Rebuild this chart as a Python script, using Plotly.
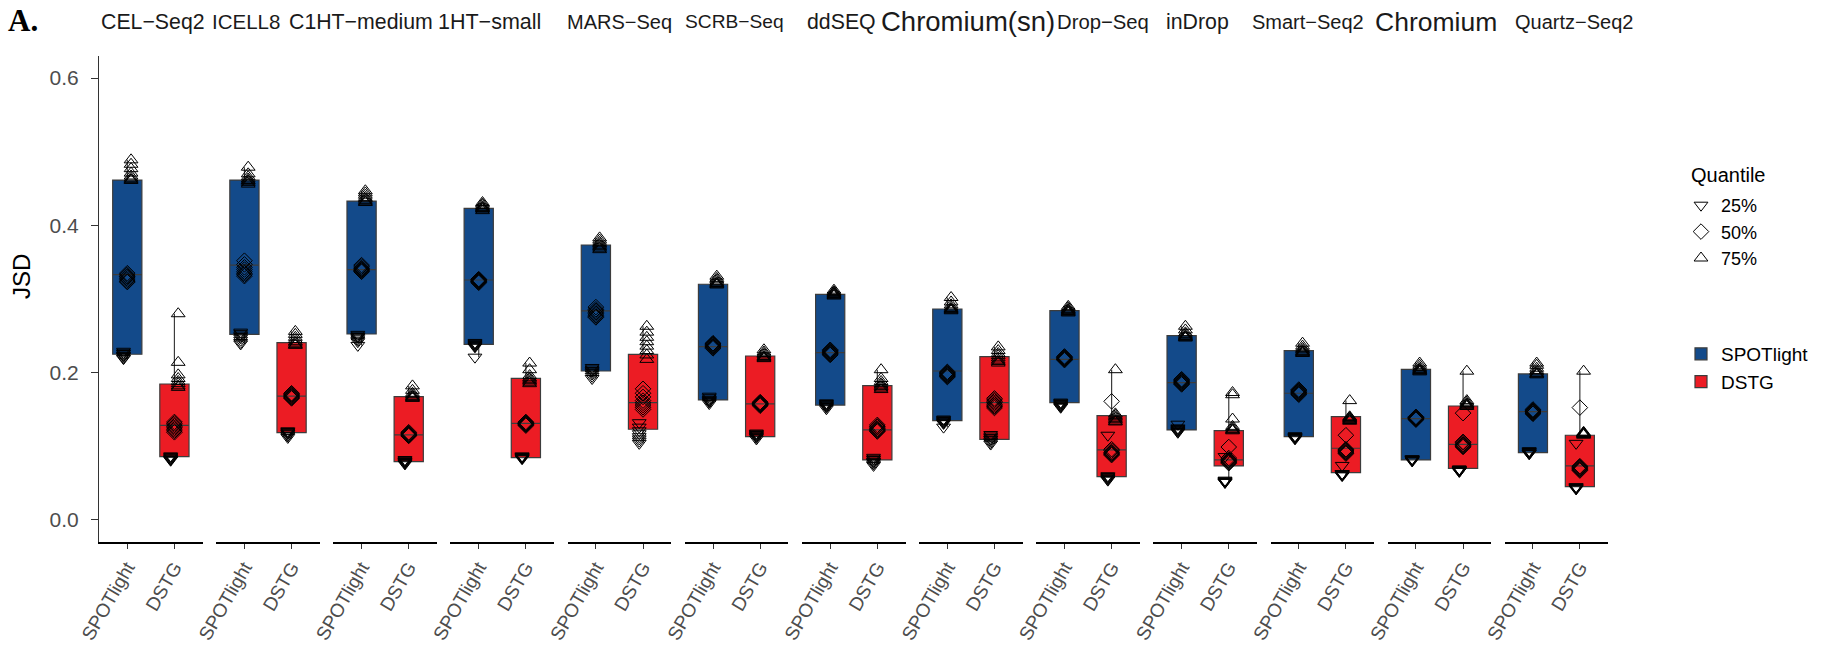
import plotly.graph_objects as go

platforms = ["CEL−Seq2", "ICELL8", "C1HT−medium", "1HT−small", "MARS−Seq", "SCRB−Seq", "ddSEQ",
             "Chromium(sn)", "Drop−Seq", "inDrop", "Smart−Seq2", "Chromium", "Quartz−Seq2"]
methods = ["SPOTlight", "DSTG"]
quantiles = ["25%", "50%", "75%"]
y_ticks = [0.0, 0.2, 0.4, 0.6]
y_ticktext = ["0.0", "0.2", "0.4", "0.6"]

# Box statistics (q1, median, q3) per platform
spot_q1 = [0.225, 0.252, 0.2525, 0.2385, 0.2022, 0.163, 0.156, 0.1348, 0.1593, 0.1222, 0.1131, 0.0814, 0.0914]
spot_med = [0.333, 0.346, 0.340, 0.3258, 0.284, 0.2353, 0.2271, 0.2022, 0.218, 0.1864, 0.172, 0.1376, 0.147]
spot_q3 = [0.4615, 0.4615, 0.433, 0.423, 0.3733, 0.320, 0.3063, 0.2864, 0.2841, 0.2502, 0.2299, 0.2045, 0.1982]
dstg_q1 = [0.086, 0.1186, 0.0792, 0.0846, 0.1231, 0.1131, 0.0814, 0.1095, 0.0588, 0.0733, 0.0642, 0.0701, 0.0452]
dstg_med = [0.1285, 0.168, 0.1154, 0.131, 0.1593, 0.1575, 0.1222, 0.1593, 0.095, 0.0814, 0.0973, 0.1027, 0.0733]
dstg_q3 = [0.1846, 0.2407, 0.1674, 0.1923, 0.2249, 0.2226, 0.1824, 0.2217, 0.1416, 0.1213, 0.1403, 0.1547, 0.115]

# Quantile points (one list per platform)
spot_p25 = [
    [0.229, 0.227, 0.226, 0.224, 0.223, 0.222, 0.220, 0.219],
    [0.255, 0.253, 0.251, 0.249, 0.247, 0.244, 0.241, 0.239],
    [0.252, 0.250, 0.249, 0.248, 0.246, 0.244, 0.242, 0.237],
    [0.241, 0.240, 0.239, 0.238, 0.237, 0.236, 0.235, 0.221],
    [0.207, 0.205, 0.203, 0.202, 0.200, 0.198, 0.195, 0.192],
    [0.168, 0.166, 0.164, 0.163, 0.162, 0.161, 0.160, 0.158],
    [0.159, 0.158, 0.157, 0.156, 0.155, 0.154, 0.153, 0.151],
    [0.137, 0.136, 0.135, 0.134, 0.133, 0.132, 0.131, 0.126],
    [0.160, 0.159, 0.158, 0.157, 0.156, 0.155, 0.154, 0.153],
    [0.130, 0.125, 0.124, 0.123, 0.122, 0.121, 0.120, 0.119],
    [0.114, 0.114, 0.113, 0.113, 0.112, 0.112, 0.111, 0.110],
    [0.083, 0.083, 0.082, 0.082, 0.082, 0.081, 0.081, 0.080],
    [0.094, 0.093, 0.093, 0.092, 0.091, 0.091, 0.090, 0.090],
]
spot_p50 = [
    [0.335, 0.333, 0.331, 0.330, 0.328, 0.326, 0.324, 0.323],
    [0.352, 0.347, 0.343, 0.340, 0.337, 0.335, 0.333, 0.331],
    [0.346, 0.344, 0.342, 0.341, 0.340, 0.339, 0.338, 0.337],
    [0.327, 0.326, 0.326, 0.325, 0.324, 0.324, 0.323, 0.322],
    [0.289, 0.286, 0.284, 0.282, 0.280, 0.278, 0.276, 0.275],
    [0.240, 0.239, 0.238, 0.237, 0.236, 0.235, 0.234, 0.233],
    [0.231, 0.230, 0.229, 0.228, 0.227, 0.226, 0.225, 0.224],
    [0.201, 0.200, 0.199, 0.198, 0.197, 0.196, 0.195, 0.194],
    [0.222, 0.221, 0.220, 0.220, 0.219, 0.218, 0.218, 0.217],
    [0.191, 0.190, 0.189, 0.188, 0.187, 0.186, 0.185, 0.184],
    [0.177, 0.176, 0.175, 0.174, 0.173, 0.172, 0.171, 0.170],
    [0.140, 0.139, 0.139, 0.138, 0.138, 0.137, 0.137, 0.136],
    [0.150, 0.149, 0.148, 0.147, 0.147, 0.146, 0.145, 0.144],
]
spot_p75 = [
    [0.489, 0.483, 0.477, 0.471, 0.467, 0.464, 0.462, 0.461],
    [0.479, 0.470, 0.466, 0.463, 0.461, 0.460, 0.458, 0.456],
    [0.447, 0.444, 0.441, 0.438, 0.436, 0.434, 0.432, 0.431],
    [0.431, 0.429, 0.427, 0.425, 0.424, 0.423, 0.422, 0.420],
    [0.383, 0.380, 0.377, 0.375, 0.373, 0.371, 0.369, 0.367],
    [0.331, 0.328, 0.326, 0.324, 0.322, 0.321, 0.320, 0.319],
    [0.312, 0.310, 0.309, 0.308, 0.307, 0.306, 0.305, 0.304],
    [0.302, 0.296, 0.292, 0.289, 0.287, 0.286, 0.285, 0.284],
    [0.290, 0.288, 0.286, 0.285, 0.284, 0.283, 0.282, 0.281],
    [0.263, 0.258, 0.254, 0.252, 0.250, 0.249, 0.248, 0.247],
    [0.240, 0.236, 0.233, 0.231, 0.229, 0.228, 0.227, 0.226],
    [0.213, 0.210, 0.207, 0.205, 0.204, 0.203, 0.202, 0.201],
    [0.213, 0.210, 0.206, 0.203, 0.201, 0.199, 0.198, 0.197],
]
dstg_p25 = [
    [0.087, 0.086, 0.085, 0.084, 0.083, 0.082, 0.082, 0.081],
    [0.121, 0.120, 0.119, 0.118, 0.117, 0.115, 0.114, 0.112],
    [0.082, 0.081, 0.080, 0.079, 0.079, 0.078, 0.077, 0.076],
    [0.087, 0.086, 0.086, 0.085, 0.085, 0.084, 0.084, 0.083],
    [0.132, 0.126, 0.121, 0.117, 0.113, 0.110, 0.107, 0.104],
    [0.118, 0.117, 0.116, 0.115, 0.114, 0.113, 0.112, 0.110],
    [0.085, 0.083, 0.082, 0.080, 0.079, 0.078, 0.076, 0.074],
    [0.116, 0.114, 0.112, 0.110, 0.109, 0.107, 0.105, 0.103],
    [0.115, 0.060, 0.059, 0.058, 0.057, 0.056, 0.055, 0.054],
    [0.086, 0.054, 0.053, 0.053, 0.052, 0.052, 0.051, 0.051],
    [0.074, 0.063, 0.063, 0.062, 0.062, 0.061, 0.061, 0.060],
    [0.069, 0.069, 0.068, 0.068, 0.067, 0.067, 0.066, 0.066],
    [0.104, 0.045, 0.045, 0.044, 0.044, 0.043, 0.043, 0.042],
]
dstg_p50 = [
    [0.133, 0.131, 0.129, 0.127, 0.125, 0.123, 0.121, 0.119],
    [0.172, 0.171, 0.170, 0.169, 0.168, 0.167, 0.166, 0.165],
    [0.119, 0.118, 0.117, 0.116, 0.116, 0.115, 0.115, 0.114],
    [0.133, 0.132, 0.131, 0.131, 0.130, 0.130, 0.129, 0.128],
    [0.178, 0.172, 0.167, 0.162, 0.159, 0.156, 0.153, 0.150],
    [0.160, 0.159, 0.158, 0.158, 0.157, 0.157, 0.156, 0.155],
    [0.129, 0.127, 0.126, 0.124, 0.123, 0.122, 0.121, 0.120],
    [0.165, 0.163, 0.161, 0.159, 0.157, 0.155, 0.154, 0.152],
    [0.161, 0.096, 0.094, 0.092, 0.091, 0.090, 0.089, 0.088],
    [0.099, 0.084, 0.082, 0.081, 0.080, 0.079, 0.078, 0.077],
    [0.115, 0.096, 0.095, 0.094, 0.093, 0.092, 0.091, 0.090],
    [0.145, 0.106, 0.105, 0.103, 0.102, 0.101, 0.100, 0.099],
    [0.1525, 0.073, 0.072, 0.071, 0.070, 0.069, 0.068, 0.067],
]
dstg_p75 = [
    [0.280, 0.214, 0.197, 0.192, 0.188, 0.185, 0.182, 0.180],
    [0.256, 0.252, 0.248, 0.245, 0.242, 0.240, 0.238, 0.237],
    [0.182, 0.176, 0.172, 0.170, 0.168, 0.167, 0.166, 0.165],
    [0.213, 0.204, 0.196, 0.193, 0.191, 0.189, 0.187, 0.185],
    [0.263, 0.255, 0.248, 0.242, 0.236, 0.230, 0.224, 0.218],
    [0.231, 0.228, 0.226, 0.224, 0.222, 0.221, 0.220, 0.219],
    [0.204, 0.192, 0.188, 0.185, 0.183, 0.181, 0.179, 0.177],
    [0.235, 0.230, 0.226, 0.223, 0.220, 0.217, 0.215, 0.213],
    [0.204, 0.144, 0.142, 0.140, 0.138, 0.136, 0.134, 0.133],
    [0.173, 0.170, 0.137, 0.127, 0.125, 0.123, 0.122, 0.121],
    [0.162, 0.140, 0.139, 0.138, 0.137, 0.136, 0.135, 0.134],
    [0.202, 0.162, 0.160, 0.158, 0.157, 0.156, 0.155, 0.154],
    [0.202, 0.119, 0.118, 0.118, 0.117, 0.117, 0.116, 0.115],
]

# ---------------- styling ----------------
W, H = 1828, 645
ML, MR, MT, MB = 99, 220, 56, 103
PW = W - ML - MR
PH = H - MT - MB
panel_w = 103.7
panel_step = 117.15
FONT = "Liberation Sans, Arial, Helvetica, sans-serif"
COL = {"SPOTlight": "#134A8A", "DSTG": "#EC1C24"}
SYM = {"25%": "triangle-down-open", "50%": "diamond-open", "75%": "triangle-up-open"}
OFF = {"25%": -0.08, "50%": 0.0, "75%": 0.08}

stats = {
    "SPOTlight": (spot_q1, spot_med, spot_q3, {"25%": spot_p25, "50%": spot_p50, "75%": spot_p75}),
    "DSTG": (dstg_q1, dstg_med, dstg_q3, {"25%": dstg_p25, "50%": dstg_p50, "75%": dstg_p75}),
}

fig = go.Figure()
layout_axes = {}
for i, plat in enumerate(platforms):
    xname = "x" if i == 0 else f"x{i+1}"
    xkey = "xaxis" if i == 0 else f"xaxis{i+1}"
    d0 = (i * panel_step) / PW
    d1 = (i * panel_step + panel_w) / PW
    layout_axes[xkey] = dict(
        domain=[d0, min(d1, 1.0)], range=[0.4, 2.6], anchor="y",
        tickvals=[1, 2], ticktext=methods, tickangle=-60,
        tickfont=dict(family=FONT, size=19, color="#4D4D4D"),
        showline=True, linecolor="black", linewidth=1.6,
        ticks="outside", ticklen=5, tickcolor="#333333", tickwidth=1,
        showgrid=False, zeroline=False, fixedrange=True,
    )
    for mi, m in enumerate(methods):
        q1, med, q3, pts = stats[m]
        allv = pts["25%"][i] + pts["50%"][i] + pts["75%"][i]
        fig.add_trace(go.Box(
            x=[mi + 1], q1=[q1[i]], median=[med[i]], q3=[q3[i]],
            lowerfence=[min(allv)], upperfence=[max(allv)],
            width=0.62, fillcolor=COL[m], line=dict(color="#3C3C3C", width=1.2),
            whiskerwidth=0, boxpoints=False, name=m, legendgroup=m,
            showlegend=(i == 0), legend="legend2", xaxis=xname, yaxis="y",
            hoverinfo="skip",
        ))
    for q in quantiles:
        xs, ys = [], []
        for mi, m in enumerate(methods):
            vals = stats[m][3][q][i]
            xs += [mi + 1 + OFF[q]] * len(vals)
            ys += vals
        fig.add_trace(go.Scatter(
            x=xs, y=ys, mode="markers", name=q, legendgroup=q,
            showlegend=(i == 0), legend="legend", xaxis=xname, yaxis="y",
            marker=dict(symbol=SYM[q], size=12, color="black", line=dict(width=1.0)),
            hoverinfo="skip",
        ))

# strip labels
strip_x = [131, 211, 310, 420, 531, 630, 722, 830, 946, 1027, 1122, 1232, 1350]
strip_size = [21.3, 20.5, 21.3, 21.5, 20, 19.2, 21.3, 27.5, 20.3, 21.3, 20, 26.5, 20]
annotations = []
for plat, px, fs in zip(platforms, strip_x, strip_size):
    annotations.append(dict(
        x=(px * W / 1568 - ML) / PW, y=1 + (MT - 22) / PH, xref="paper", yref="paper",
        text=plat, showarrow=False, xanchor="center", yanchor="middle",
        font=dict(family=FONT, size=fs, color="#1A1A1A"),
    ))
annotations.append(dict(
    x=(6 - ML) / PW, y=1 + (MT - 20) / PH, xref="paper", yref="paper",
    text="<b>A.</b>", showarrow=False, xanchor="left", yanchor="middle",
    font=dict(family="Liberation Serif, Times New Roman, serif", size=31, color="black"),
))
annotations.append(dict(
    x=(21 - ML) / PW, y=(H - MB - 277) / PH, xref="paper", yref="paper",
    text="JSD", textangle=-90, showarrow=False, xanchor="center", yanchor="middle",
    font=dict(family=FONT, size=24, color="black"),
))
annotations.append(dict(
    x=(1689 - ML) / PW, y=(H - MB - 175) / PH, xref="paper", yref="paper",
    text="Quantile", showarrow=False, xanchor="left", yanchor="middle",
    font=dict(family=FONT, size=20, color="black"),
))

fig.update_layout(
    width=W, height=H,
    margin=dict(l=ML, r=MR, t=MT, b=MB, autoexpand=False),
    paper_bgcolor="white", plot_bgcolor="white",
    boxmode="overlay",
    font=dict(family=FONT, color="black"),
    yaxis=dict(
        domain=[0, 1], range=[-0.03, 0.63], anchor="x",
        tickvals=y_ticks, ticktext=y_ticktext,
        tickfont=dict(family=FONT, size=21, color="#4D4D4D"),
        showline=True, linecolor="#333333", linewidth=1.2,
        ticks="outside", ticklen=7, tickcolor="#333333",
        ticklabelstandoff=8,
        showgrid=False, zeroline=False, fixedrange=True,
    ),
    legend=dict(
        x=(1681 - ML) / PW, y=(H - MB - 187) / PH, xanchor="left", yanchor="top",
        font=dict(family=FONT, size=18, color="black"),
        bgcolor="rgba(0,0,0,0)", tracegroupgap=0,
    ),
    legend2=dict(
        x=(1681 - ML) / PW, y=(H - MB - 335) / PH, xanchor="left", yanchor="top",
        font=dict(family=FONT, size=19, color="black"),
        bgcolor="rgba(0,0,0,0)", tracegroupgap=0,
    ),
    annotations=annotations,
    **layout_axes,
)

fig.write_html("out.html")
